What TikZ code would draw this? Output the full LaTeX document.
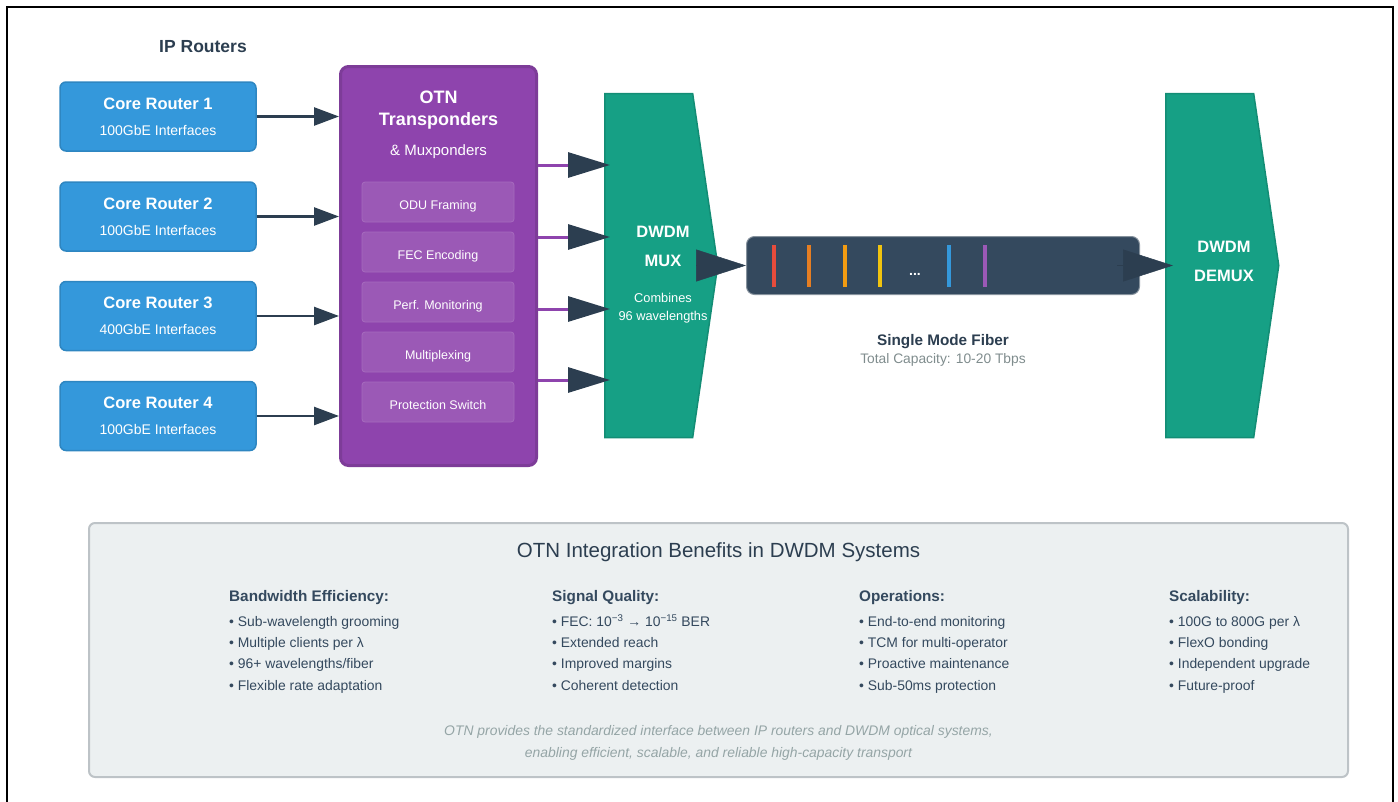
\documentclass[tikz,border=0pt]{standalone}
\usepackage{fontspec}
\setmainfont{Liberation Sans}
\usetikzlibrary{arrows.meta,shapes.symbols,positioning}

\definecolor{routerblue}{HTML}{3498DB}
\definecolor{routeredge}{HTML}{2E86C1}
\definecolor{otnpurple}{HTML}{8E44AD}
\definecolor{otnedge}{HTML}{7D3C98}
\definecolor{otnstep}{HTML}{9B59B6}
\definecolor{otnstepedge}{HTML}{A66BBE}
\definecolor{muxgreen}{HTML}{16A085}
\definecolor{muxedge}{HTML}{138D75}
\definecolor{darkslate}{HTML}{2C3E50}
\definecolor{fiberslate}{HTML}{34495E}
\definecolor{panelgray}{HTML}{ECF0F1}
\definecolor{paneledge}{HTML}{BDC3C7}
\definecolor{mutedgray}{HTML}{7F8C8D}
\definecolor{lightgray}{HTML}{95A5A6}
\definecolor{lamred}{HTML}{E74C3C}
\definecolor{lamorange}{HTML}{E67E22}
\definecolor{lamamber}{HTML}{F39C12}
\definecolor{lamyellow}{HTML}{F1C40F}
\definecolor{lamblue}{HTML}{3498DB}
\definecolor{lamviolet}{HTML}{9B59B6}

\newcommand{\colheadfont}{\bfseries\fontsize{15.3}{21.3}\selectfont}

\tikzset{
  router/.style={draw=routeredge, fill=routerblue, line width=1.5pt, rounded corners=6pt,
    minimum width=196pt, minimum height=69pt, inner sep=0pt, text=white, align=center,
    font=\fontsize{14}{26}\selectfont},
  otnbox/.style={draw=otnedge, fill=otnpurple, line width=3pt, rounded corners=8pt,
    minimum width=196pt, minimum height=399pt},
  otnstepbox/.style={draw=otnstepedge, fill=otnstep, rounded corners=3pt, line width=0.8pt,
    minimum width=152pt, minimum height=40pt, inner sep=0pt, text height=14pt, text depth=0pt,
    text=white, font=\fontsize{12.5}{15}\selectfont},
  muxbox/.style={signal, signal to=east, signal pointer angle=163.4, fill=muxgreen,
    draw=muxedge, line width=1.5pt, minimum width=113pt, minimum height=344pt, inner sep=0pt},
  fiberbox/.style={fill=fiberslate, draw=paneledge!60!fiberslate, rounded corners=8pt,
    minimum width=393pt, minimum height=58pt, line width=1pt},
  panel/.style={fill=panelgray, draw=paneledge, line width=2pt, rounded corners=6pt,
    minimum width=1259pt, minimum height=254pt},
  lbl/.style={inner sep=0pt, anchor=base},
  column/.style={inner sep=0pt, anchor=north west, align=left, text=fiberslate,
    font=\fontsize{13.9}{21.3}\selectfont},
  wave/.style={line width=3.5pt},
  rlink/.style={draw=darkslate, line width=2.5pt, -{Triangle[length=25pt, width=18pt]}},
  olink/.style={draw=otnpurple, line width=3pt, -{Triangle[length=42pt, width=25pt, color=darkslate]}},
  bigtip/.style={draw=darkslate, line width=0.5pt, -{Triangle[length=50pt, width=32pt]}},
}

\begin{document}
\begin{tikzpicture}[x=1pt, y=-1pt]
  \useasboundingbox (0,0) rectangle (1398,801);
  \draw [line width=2pt] (7,830) -- (7,7) -- (1393,7) -- (1393,830);

  % routers
  \node [lbl, text=darkslate, font=\bfseries\fontsize{17.5}{21}\selectfont] (iprouters) at (203,52) {IP Routers};
  \node [router] (r1) at (158,116.5) {{\bfseries\fontsize{16.5}{26}\selectfont Core Router 1}\\100GbE Interfaces};
  \node [router] (r2) at (158,216.5) {{\bfseries\fontsize{16.5}{26}\selectfont Core Router 2}\\100GbE Interfaces};
  \node [router] (r3) at (158,316) {{\bfseries\fontsize{16.5}{26}\selectfont Core Router 3}\\400GbE Interfaces};
  \node [router] (r4) at (158,416) {{\bfseries\fontsize{16.5}{26}\selectfont Core Router 4}\\100GbE Interfaces};

  % OTN transponders
  \node [otnbox] (otn) at (438.5,266) {};
  \node [lbl, text=white, font=\bfseries\fontsize{18}{22}\selectfont] (otntitle) at (438.5,103) {OTN};
  \node [lbl, text=white, font=\bfseries\fontsize{18}{22}\selectfont] (otnname) at (438.5,125) {Transponders};
  \node [lbl, text=white, font=\fontsize{15}{18}\selectfont] (otnsub) at (438.5,155) {\& Muxponders};
  \node [otnstepbox] (odu) at (438,202) {ODU Framing};
  \node [otnstepbox] (fec) at (438,252) {FEC Encoding};
  \node [otnstepbox] (perf) at (438,302) {Perf. Monitoring};
  \node [otnstepbox] (mplx) at (438,352) {Multiplexing};
  \node [otnstepbox] (prot) at (438,402) {Protection Switch};

  \draw [rlink] (r1.east) -- (r1.east -| otn.west);
  \draw [rlink] (r2.east) -- (r2.east -| otn.west);
  \draw [rlink] (r3.east) -- (r3.east -| otn.west);
  \draw [rlink] (r4.east) -- (r4.east -| otn.west);

  % DWDM mux, fiber, demux
  \node [muxbox, anchor=west] (mux) at (604,265.5) {};
  \node [lbl, text=white, font=\bfseries\fontsize{16.5}{20}\selectfont] (muxname) at (663,237) {DWDM};
  \node [lbl, text=white, font=\bfseries\fontsize{16.5}{20}\selectfont] (muxkind) at (663,266) {MUX};
  \node [lbl, text=white, font=\fontsize{12.8}{15}\selectfont] (muxnote) at (663,302) {Combines};
  \node [lbl, text=white, font=\fontsize{12.8}{15}\selectfont] (muxcount) at (663,320.5) {96 wavelengths};

  \coordinate (muxin1) at (610,165);
  \coordinate (muxin2) at (610,237);
  \coordinate (muxin3) at (610,309);
  \coordinate (muxin4) at (610,380);
  \draw [olink] (otn.east |- muxin1) -- (muxin1);
  \draw [olink] (otn.east |- muxin2) -- (muxin2);
  \draw [olink] (otn.east |- muxin3) -- (muxin3);
  \draw [olink] (otn.east |- muxin4) -- (muxin4);

  \node [fiberbox] (fiber) at (943,265.5) {};
  \draw [wave, lamred] (774,245) -- (774,287);
  \draw [wave, lamorange] (809,245) -- (809,287);
  \draw [wave, lamamber] (845,245) -- (845,287);
  \draw [wave, lamyellow] (880,245) -- (880,287);
  \draw [wave, lamblue] (949,245) -- (949,287);
  \draw [wave, lamviolet] (985,245) -- (985,287);
  \node [lbl, text=white, font=\bfseries\fontsize{14}{16}\selectfont] (dots) at (915,275) {...};
  \node [lbl, text=darkslate, font=\bfseries\fontsize{15.3}{18}\selectfont] (fibername) at (943,345) {Single Mode Fiber};
  \node [lbl, text=mutedgray, font=\fontsize{13.8}{16}\selectfont] (fibercap) at (943,363) {Total Capacity: 10-20 Tbps};

  \node [muxbox, anchor=west] (demux) at (1165,265.5) {};
  \node [lbl, text=white, font=\bfseries\fontsize{16.5}{20}\selectfont] (demuxname) at (1224,252) {DWDM};
  \node [lbl, text=white, font=\bfseries\fontsize{16.5}{20}\selectfont] (demuxkind) at (1224,281) {DEMUX};

  \coordinate (muxout) at (697,265.5);
  \coordinate (fiberout) at (1117,265.5);
  \draw [bigtip] (muxout) -- (fiber.west);
  \draw [bigtip] (fiberout) -- ([xshift=8pt]demux.west);

  % benefits panel
  \node [panel] (panel) at (718.5,650) {};
  \node [lbl, text=darkslate, font=\fontsize{20.5}{24}\selectfont] (paneltitle) at (718.5,557) {OTN Integration Benefits in DWDM Systems};
  \node [column] (bandwidth) at (229,590) {{\colheadfont Bandwidth Efficiency:}\\[3.7pt]
    • Sub-wavelength grooming\\ • Multiple clients per λ\\ • 96+ wavelengths/fiber\\ • Flexible rate adaptation};
  \node [column] (quality) at (552,590) {{\colheadfont Signal Quality:}\\[3.7pt]
    • FEC: 10\textsuperscript{−3} → 10\textsuperscript{−15} BER\\ • Extended reach\\ • Improved margins\\ • Coherent detection};
  \node [column] (operations) at (859,590) {{\colheadfont Operations:}\\[3.7pt]
    • End-to-end monitoring\\ • TCM for multi-operator\\ • Proactive maintenance\\ • Sub-50ms protection};
  \node [column] (scalability) at (1169,590) {{\colheadfont Scalability:}\\[3.7pt]
    • 100G to 800G per λ\\ • FlexO bonding\\ • Independent upgrade\\ • Future-proof};
  \node [lbl, text=lightgray, font=\itshape\fontsize{13.9}{16}\selectfont] (footone) at (718.5,735.5) {OTN provides the standardized interface between IP routers and DWDM optical systems,};
  \node [lbl, text=lightgray, font=\itshape\fontsize{13.9}{16}\selectfont] (foottwo) at (718.5,757.5) {enabling efficient, scalable, and reliable high-capacity transport};
\end{tikzpicture}
\end{document}
